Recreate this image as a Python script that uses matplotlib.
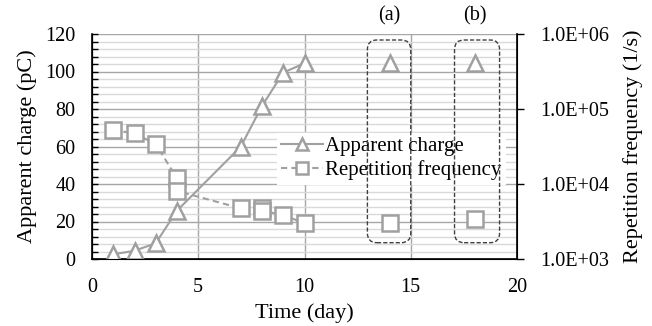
import numpy as np
import matplotlib
matplotlib.use("Agg")
import matplotlib.pyplot as plt
from matplotlib.patches import FancyBboxPatch
from matplotlib.ticker import MultipleLocator, FixedLocator, FuncFormatter

plt.rcParams['font.family'] = ['Liberation Serif', 'DejaVu Serif']
plt.rcParams['font.size'] = 14.5

# Data
days = [1, 2, 3, 4, 7, 8, 9, 10]
charge = [2.5, 4.4, 8.4, 25.8, 59.9, 81.6, 99.4, 104.4]
freq_days = [1, 2, 3, 4, 4, 7, 8, 8, 9, 10]
freq = [5.25e4, 4.74e4, 3.4e4, 1.19e4, 8.07e3, 4.74e3, 4.8e3, 4.4e3, 3.86e3, 2.99e3]
extra_days = [14, 18]
extra_charge = [104.4, 104.4]
extra_freq = [3.0e3, 3.44e3]
box_labels = ['(a)', '(b)']
right_ticks = [1e3, 1e4, 1e5, 1e6]

GRAY = '#a0a0a0'

fig = plt.figure(figsize=(6.52, 3.26), dpi=100)
ax = fig.add_axes([92 / 652, 67 / 326, 425 / 652, 225 / 326])
ax2 = ax.twinx()

# left axis
ax.set_xlim(0, 20)
ax.set_ylim(0, 120)
ax.xaxis.set_major_locator(MultipleLocator(5))
ax.yaxis.set_major_locator(MultipleLocator(20))
ax.yaxis.set_minor_locator(MultipleLocator(4))
ax.grid(axis='x', which='major', color='#a6a6a6', lw=1)
ax.grid(axis='y', which='major', color='#a6a6a6', lw=1)
ax.grid(axis='y', which='minor', color='#d9d9d9', lw=1)
ax.set_axisbelow(True)
ax.tick_params(axis='y', which='both', direction='in', length=4, width=1)
ax.tick_params(axis='y', pad=12)
ax.tick_params(axis='x', length=0, pad=14)
ax.spines['top'].set_visible(False)
ax.spines['left'].set_linewidth(1.2)
ax.spines['bottom'].set_linewidth(1.2)

# right axis
ax2.set_yscale('log')
ax2.set_ylim(1e3, 1e6)
ax2.yaxis.set_major_locator(FixedLocator(right_ticks))
ax2.yaxis.set_minor_locator(FixedLocator([]))
ax2.yaxis.set_major_formatter(FuncFormatter(lambda v, p: '1.0E+%02d' % round(np.log10(v))))
ax2.tick_params(axis='y', direction='out', length=5, width=1, pad=12)
ax2.spines['top'].set_visible(False)
ax2.spines['right'].set_linewidth(1.2)

# series
l1, = ax.plot(days, charge, color=GRAY, lw=1.5, marker='^', ms=12,
              mfc='white', mec=GRAY, mew=1.8, zorder=4, label='Apparent charge')
ax.plot(extra_days, extra_charge, ls='none', marker='^', ms=12,
        mfc='white', mec=GRAY, mew=1.8, zorder=4)
l2, = ax2.plot(freq_days, freq, color=GRAY, lw=1.5, ls=(0, (3, 2)), marker='s', ms=11,
               mfc='white', mec=GRAY, mew=1.8, zorder=3, label='Repetition frequency')
ax2.plot(extra_days, extra_freq, ls='none', marker='s', ms=11,
         mfc='white', mec=GRAY, mew=1.8, zorder=3)

leg = ax2.legend([l1, l2], ['Apparent charge', 'Repetition frequency'],
                 loc='upper left', bbox_to_anchor=(0.436, 0.562), frameon=True,
                 fancybox=False, edgecolor='none', facecolor='white', framealpha=1,
                 handlelength=2.0, handletextpad=0.1, borderpad=0.2, markerscale=0.75,
                 labelspacing=0.2, fontsize=15, borderaxespad=0)
leg.set_zorder(5)

# dashed highlight boxes
box_x = [(12.96, 15.0), (17.06, 19.18)]
for (x0, x1), lab, xc in zip(box_x, box_labels, extra_days):
    p = FancyBboxPatch((x0, 8.7), x1 - x0, 116.8 - 8.7,
                       boxstyle='round,pad=0,rounding_size=0.45', mutation_aspect=11.3,
                       fill=False, ec='#404040', lw=1, ls=(0, (3, 1.5)),
                       transform=ax.transData, zorder=10, clip_on=False)
    ax2.add_patch(p)
    ax.text(xc, 1.08, lab, transform=ax.get_xaxis_transform(), ha='center', va='center',
            fontsize=14.5)

ax.set_xlabel('Time (day)', fontsize=16, labelpad=4)
ax.set_ylabel('Apparent charge (pC)', fontsize=16, labelpad=6)
ax2.set_ylabel('Repetition frequency (1/s)', fontsize=16, labelpad=10)

fig.savefig('out.png', dpi=100)
